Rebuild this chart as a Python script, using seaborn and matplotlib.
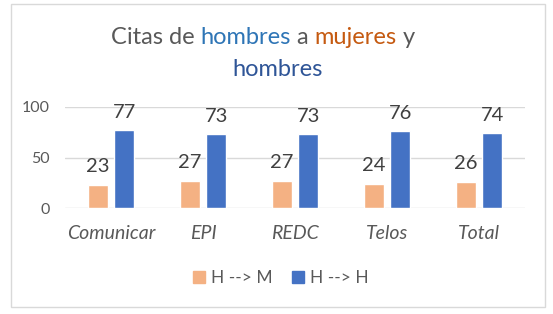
import matplotlib
matplotlib.use("Agg")
import matplotlib.pyplot as plt
import pandas as pd
import seaborn as sns
from matplotlib.patches import Rectangle

categories = ["Comunicar", "EPI", "REDC", "Telos", "Total"]
series_names = ["H --> M", "H --> H"]
h_to_m = [23, 27, 27, 24, 26]
h_to_h = [77, 73, 73, 76, 74]
y_ticks = [0, 50, 100]

colors = ["#F4B183", "#4472C4"]
gray = "#595959"

df = pd.DataFrame({
    "revista": categories * 2,
    "serie": [series_names[0]] * len(categories) + [series_names[1]] * len(categories),
    "valor": h_to_m + h_to_h,
})

sns.set_style("white")
plt.rcParams["font.family"] = ["Lato", "DejaVu Sans"]

fig = plt.figure(figsize=(5.53, 3.14), dpi=100)
ax = fig.add_axes([65 / 553, 1 - 208 / 314, 460 / 553, 101 / 314])

sns.barplot(data=df, x="revista", y="valor", hue="serie", palette=colors,
            width=0.57, gap=0.23, ax=ax, legend=False, saturation=1)

ax.set_xlim(-0.5, len(categories) - 0.5)
ax.set_ylim(0, 100)
ax.set_yticks(y_ticks)
ax.grid(axis="y", color="#D9D9D9", linewidth=1)
ax.set_axisbelow(True)
for s in ax.spines.values():
    s.set_visible(False)
ax.set_xlabel("")
ax.set_ylabel("")
ax.tick_params(axis="y", length=0, pad=11, labelsize=11.5, labelcolor=gray)
ax.tick_params(axis="x", length=0, pad=12, labelsize=14, labelcolor=gray)
for lbl in ax.get_xticklabels():
    lbl.set_style("italic")

# data labels
for cont in ax.containers:
    ax.bar_label(cont, labels=[f"{int(v)}" for v in cont.datavalues],
                 padding=7, fontsize=14.5, color="#404040")

# title with colored words
t_y1 = 1 - 37 / 314
parts = [("Citas de ", gray), ("hombres", "#2E75B6"), (" a ", gray),
         ("mujeres", "#C55A11"), (" y", gray)]
renderer = fig.canvas.get_renderer()
widths = []
texts = []
for txt, c in parts:
    t = fig.text(0, t_y1, txt, fontsize=17, color=c, va="center", ha="left")
    texts.append(t)
    widths.append(t.get_window_extent(renderer).width)
total = sum(widths)
x0 = (263 - total / 2)
for t, w in zip(texts, widths):
    t.set_x(x0 / 553)
    x0 += w
fig.text(278 / 553, 1 - 70 / 314, "hombres", fontsize=17, color="#2F5597",
         va="center", ha="center")

# legend
handles = [Rectangle((0, 0), 1, 1, color=c) for c in colors]
fig.legend(handles, series_names, loc="center", bbox_to_anchor=(281 / 553, 1 - 278 / 314),
           ncol=2, frameon=False, fontsize=12.5, labelcolor=gray, handlelength=0.7,
           handleheight=0.7, handletextpad=0.35, columnspacing=1.1)

# chart border
fig.add_artist(Rectangle((11 / 553, 1 - 307 / 314), 534 / 553, 303 / 314,
                         transform=fig.transFigure, fill=False,
                         edgecolor="#D9D9D9", linewidth=1))

fig.savefig("out.png", dpi=100)
